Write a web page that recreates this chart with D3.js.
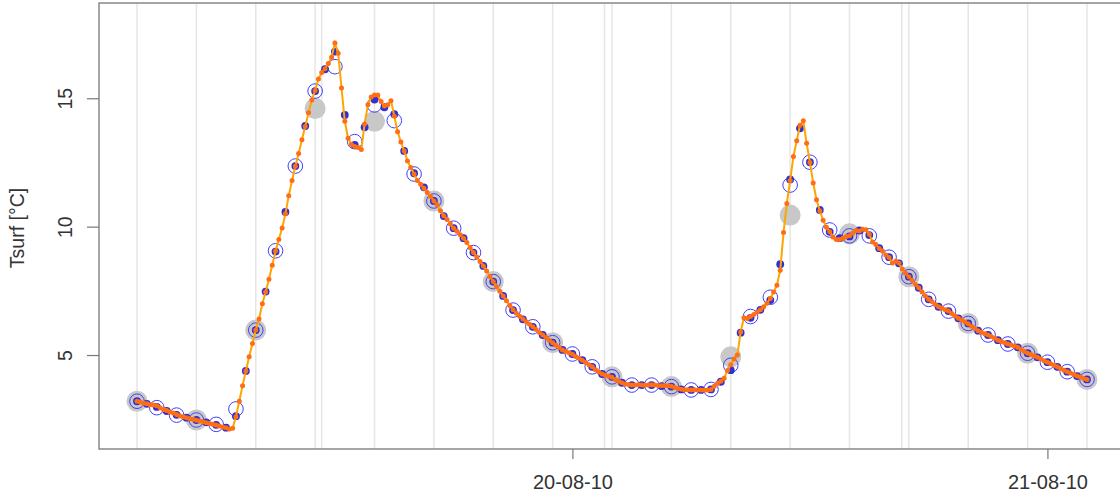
<!DOCTYPE html>
<html><head><meta charset="utf-8">
<script src="https://cdn.jsdelivr.net/npm/d3@7"></script>
<style>body{margin:0;background:#fff}svg{display:block}text{font-family:"Liberation Sans",Arial,Helvetica,sans-serif}</style>
</head><body><svg id="c" width="1120" height="497"></svg>
<script>
// ---- data ----
const startTime = "2010-08-19T02:00:00Z";
// 10-minute series (orange)
const temp10min = [
 3.20,3.17,3.12,3.10,3.06,3.05,3.02,2.95,2.88,2.84,2.78,2.74,
 2.68,2.63,2.60,2.56,2.52,2.50,2.46,2.43,2.40,2.36,2.33,2.30,
 2.27,2.24,2.20,2.17,2.12,2.15,2.60,3.20,3.80,4.38,4.93,5.45,
 5.97,6.40,7.00,7.45,7.95,8.50,9.05,9.50,9.95,10.50,11.20,11.80,
 12.35,12.85,13.38,13.90,14.44,14.93,15.30,15.75,16.00,16.15,16.35,16.60,
 17.15,16.75,15.40,14.10,13.44,13.20,13.12,13.08,13.00,14.00,14.75,15.05,
 15.13,15.13,14.87,14.70,14.75,14.90,14.30,13.70,13.30,12.95,12.56,12.30,
 12.05,11.80,11.65,11.50,11.33,11.17,11.00,10.85,10.62,10.42,10.28,10.10,
 9.94,9.82,9.68,9.55,9.38,9.18,8.99,8.82,8.64,8.47,8.27,8.06,
 7.86,7.66,7.48,7.30,7.11,6.93,6.76,6.63,6.51,6.40,6.30,6.20,
 6.10,5.99,5.88,5.78,5.68,5.58,5.48,5.38,5.29,5.20,5.14,5.09,
 5.03,4.94,4.87,4.80,4.71,4.62,4.54,4.43,4.34,4.26,4.21,4.17,
 4.13,4.05,3.98,3.92,3.87,3.85,3.83,3.83,3.84,3.83,3.82,3.83,
 3.84,3.83,3.81,3.80,3.81,3.80,3.78,3.74,3.70,3.67,3.65,3.65,
 3.64,3.65,3.64,3.64,3.63,3.64,3.66,3.78,3.90,3.98,4.10,4.40,
 4.62,4.85,5.00,5.90,6.45,6.42,6.50,6.58,6.68,6.76,6.88,7.02,
 7.20,7.45,7.72,8.30,9.77,10.90,11.80,12.73,13.35,13.95,14.12,13.25,
 12.50,11.70,11.05,10.62,10.25,9.98,9.80,9.60,9.50,9.50,9.55,9.62,
 9.65,9.75,9.85,9.83,9.90,9.88,9.70,9.40,9.30,9.15,9.05,8.90,
 8.80,8.58,8.65,8.58,8.35,8.18,8.05,7.90,7.75,7.62,7.45,7.30,
 7.17,7.08,6.97,6.88,6.82,6.76,6.71,6.62,6.52,6.43,6.36,6.29,
 6.22,6.12,6.03,5.95,5.89,5.83,5.78,5.72,5.65,5.58,5.53,5.48,
 5.43,5.39,5.35,5.30,5.22,5.14,5.07,5.02,4.96,4.91,4.85,4.78,
 4.72,4.66,4.60,4.54,4.48,4.41,4.35,4.30,4.24,4.18,4.14,4.09,4.05
];
// 30-minute series (blue filled dots)
const temp30min = [
 3.20,3.10,2.98,2.82,2.67,2.56,2.47,2.38,2.28,2.17,
 2.62,4.38,5.97,7.47,9.03,10.57,12.36,13.92,15.28,16.13,
 16.82,14.35,13.18,13.87,14.95,14.65,14.38,12.95,12.08,11.53,
 11.00,10.41,9.94,9.55,8.99,8.47,7.86,7.30,6.75,6.39,
 6.10,5.78,5.48,5.20,5.04,4.80,4.54,4.26,4.15,3.92,
 3.83,3.83,3.83,3.79,3.77,3.66,3.64,3.64,3.66,3.96,
 4.41,5.87,6.45,6.76,7.14,8.54,11.84,13.83,12.51,10.65,
 9.80,9.55,9.62,9.85,9.67,9.16,8.81,8.57,8.05,7.62,
 7.17,6.88,6.71,6.43,6.23,5.95,5.78,5.58,5.43,5.30,
 5.07,4.91,4.72,4.54,4.35,4.18,4.05
];
// hourly series (blue open circles)
const temp1h = [
 3.20,2.95,2.66,2.47,2.30,2.90,5.97,9.06,12.36,15.28,
 16.23,13.31,14.74,14.13,12.05,11.00,9.94,8.99,7.86,6.75,
 6.10,5.48,5.04,4.54,4.15,3.83,3.83,3.77,3.64,3.66,
 4.60,6.50,7.25,11.62,12.51,9.87,9.64,9.64,8.81,8.05,
 7.17,6.71,6.23,5.78,5.43,5.07,4.72,4.35,4.05
];
// 3-hourly series (grey discs)
const temp3h = [3.20,2.47,5.97,14.60,14.10,11.00,7.86,5.48,4.15,3.77,4.93,10.45,9.72,8.05,6.23,5.07,4.05];
// vertical guide lines, hours after start
const gridHours = [0,3,6,9,12,15,18,21,24,27,30,33,36,39,42,45,48,9.33,23.62,38.64];
const yTicks = [5,10,15];
const xTickDates = ["2010-08-20T00:00:00Z","2010-08-21T00:00:00Z"];
const yLabel = "Tsurf [°C]";

// ---- chart ----
const HOUR = 3600e3;
const t0 = new Date(startTime).getTime();
const series = (arr, stepMin) => arr.map((v,i)=>({t:new Date(t0 + i*stepMin*60e3), v}));
const s10 = series(temp10min,10), s30 = series(temp30min,30), s60 = series(temp1h,60), s180 = series(temp3h,180);

const pad = 48*0.04*HOUR;
const x = d3.scaleTime().domain([new Date(t0 - pad), new Date(t0 + 48*HOUR + pad)]).range([99, 1125]);
const y = d3.scaleLinear().domain([1.34, 18.71]).range([449, 3]);

const svg = d3.select("#c");
const g = svg.append("g");

g.selectAll("line.grid").data(gridHours).enter().append("line")
 .attr("x1", d=>x(new Date(t0+d*HOUR))).attr("x2", d=>x(new Date(t0+d*HOUR)))
 .attr("y1", 3).attr("y2", 449).attr("stroke", "#e6e6e6").attr("stroke-width", 1.5);

g.selectAll("circle.g3").data(s180).enter().append("circle")
 .attr("cx", d=>x(d.t)).attr("cy", d=>y(d.v)).attr("r", 10.5).attr("fill", "#c8c8c8");

g.selectAll("circle.h1").data(s60).enter().append("circle")
 .attr("cx", d=>x(d.t)).attr("cy", d=>y(d.v)).attr("r", 7.3).attr("fill", "none")
 .attr("stroke", "#4040ff").attr("stroke-width", 1);

g.selectAll("circle.m30").data(s30).enter().append("circle")
 .attr("cx", d=>x(d.t)).attr("cy", d=>y(d.v)).attr("r", 3.9).attr("fill", "#2f2fd4");

g.append("path").datum(s10)
 .attr("d", d3.line().x(d=>x(d.t)).y(d=>y(d.v)))
 .attr("fill", "none").attr("stroke", "#ffa500").attr("stroke-width", 2);

g.selectAll("circle.m10").data(s10).enter().append("circle")
 .attr("cx", d=>x(d.t)).attr("cy", d=>y(d.v)).attr("r", 2.5).attr("fill", "#ff6e14");

// box
svg.append("rect").attr("x", 99).attr("y", 3).attr("width", 1125-99).attr("height", 446)
 .attr("fill", "none").attr("stroke", "#777").attr("stroke-width", 1.3);

// y axis
const ya = svg.append("g").attr("transform", "translate(99,0)")
 .call(d3.axisLeft(y).tickValues(yTicks).tickSize(12).tickPadding(8).tickFormat(d3.format("d")));
ya.select(".domain").remove();
ya.selectAll(".tick line").attr("stroke", "#777").attr("stroke-width", 1.2);
ya.selectAll(".tick text").attr("font-size", 19.5).attr("fill", "#333")
 .attr("x", null).attr("y", 0).attr("dy", "0.35em").attr("text-anchor", "middle")
 .attr("transform", "translate(-34,0) rotate(-90)");

// x axis
const xa = svg.append("g").attr("transform", "translate(0,449)")
 .call(d3.axisBottom(x).tickValues(xTickDates.map(d=>new Date(d))).tickSize(10).tickPadding(16)
   .tickFormat(d3.utcFormat("%d-%m-%y")));
xa.select(".domain").remove();
xa.selectAll(".tick line").attr("stroke", "#777").attr("stroke-width", 1.2);
xa.selectAll(".tick text").attr("font-size", 20).attr("fill", "#333");

svg.append("text").attr("transform", "translate(24,228) rotate(-90)")
 .attr("text-anchor", "middle").attr("font-size", 19.5).attr("fill", "#333").text(yLabel);
</script></body></html>
